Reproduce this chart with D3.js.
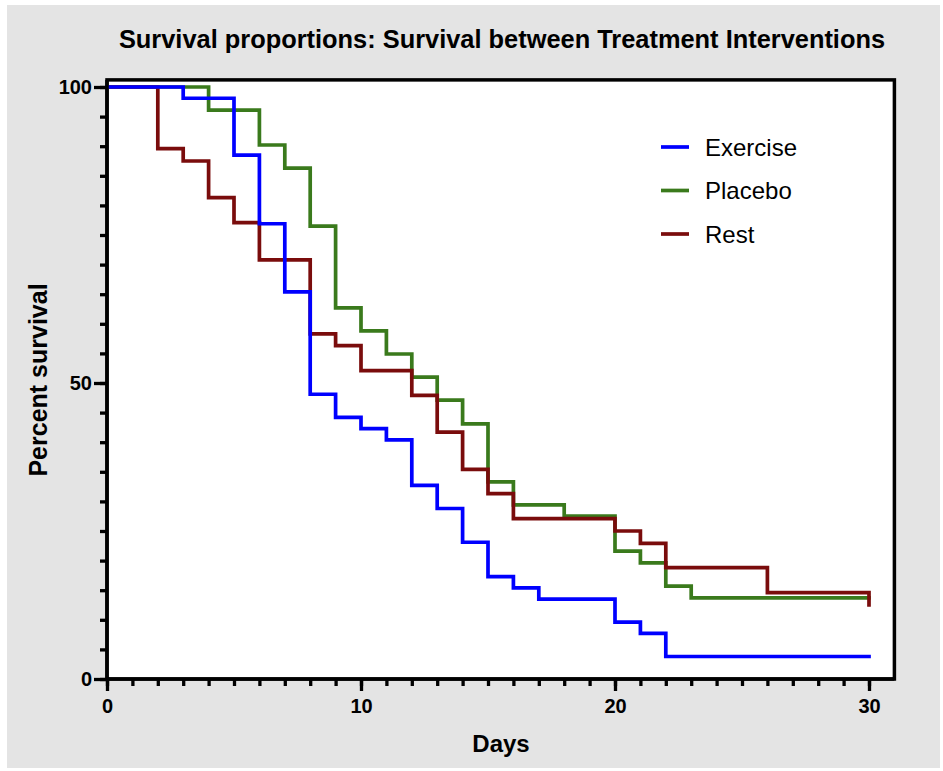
<!DOCTYPE html>
<html>
<head>
<meta charset="utf-8">
<script src="https://cdn.jsdelivr.net/npm/d3@7"></script>
<style>
  html, body { margin: 0; padding: 0; background: #ffffff; }
  svg { display: block; }
  text { font-family: "Liberation Sans", Arial, Helvetica, sans-serif; fill: #000; }
</style>
</head>
<body>
<svg id="chart" width="943" height="771"></svg>
<script>
// Kaplan-Meier survival steps: day of each event and percent surviving after it
const exerciseDays = [0, 3, 5, 6, 7, 8, 9, 10, 11, 12, 13, 14, 15, 16, 17, 20, 21, 22, 30];
const exerciseSurv = [100, 98.1, 88.5, 76.9, 65.4, 48.1, 44.2, 42.3, 40.4, 32.7, 28.8, 23.1, 17.3, 15.4, 13.5, 9.6, 7.7, 3.8, 3.8];

const placeboDays = [0, 4, 6, 7, 8, 9, 10, 11, 12, 13, 14, 15, 16, 18, 20, 21, 22, 23, 30];
const placeboSurv = [100, 96.1, 90.2, 86.3, 76.5, 62.7, 58.8, 54.9, 51.0, 47.1, 43.1, 33.3, 29.4, 27.5, 21.6, 19.6, 15.7, 13.7, 13.7];

const restDays = [0, 2, 3, 4, 5, 6, 8, 9, 10, 12, 13, 14, 15, 16, 20, 21, 22, 26, 30];
const restSurv = [100, 89.6, 87.5, 81.3, 77.1, 70.8, 58.3, 56.3, 52.1, 47.9, 41.7, 35.4, 31.3, 27.1, 25.0, 22.9, 18.8, 14.6, 12.5];

const seriesNames = ["Exercise", "Placebo", "Rest"];
const seriesColors = ["#0000ff", "#3a7a1c", "#7a0c0c"];

const xTicks = [0, 10, 20, 30];
const yTicks = [0, 50, 100];

const titleText = "Survival proportions: Survival between Treatment Interventions";
const xLabel = "Days";
const yLabel = "Percent survival";

const svg = d3.select("#chart");

// page backdrop
svg.append("rect").attr("x", 7).attr("y", 5).attr("width", 933).attr("height", 763).attr("fill", "#e4e4e4");

const x = d3.scaleLinear().domain([0, 30]).range([107, 869]);
const y = d3.scaleLinear().domain([0, 100]).range([679, 87]);

// plot frame (extends a little past the last ticks)
const fx0 = x(0), fx1 = x(31), fy0 = y(101.2), fy1 = y(0);
svg.append("rect")
  .attr("x", fx0).attr("y", fy0)
  .attr("width", fx1 - fx0).attr("height", fy1 - fy0)
  .attr("fill", "#ffffff").attr("stroke", "#000").attr("stroke-width", 3.5);

// survival curves (green under red under blue)
const series = [
  { name: "Placebo", days: placeboDays, surv: placeboSurv, color: seriesColors[1] },
  { name: "Rest", days: restDays, surv: restSurv, color: seriesColors[2] },
  { name: "Exercise", days: exerciseDays, surv: exerciseSurv, color: seriesColors[0] }
];
const line = d3.line().x(d => x(d[0])).y(d => y(d[1])).curve(d3.curveStepAfter);
series.forEach(s => {
  svg.append("path")
    .datum(s.days.map((d, i) => [d, s.surv[i]]))
    .attr("d", line)
    .attr("fill", "none")
    .attr("stroke", s.color)
    .attr("stroke-width", 3.7)
    .attr("stroke-linejoin", "miter")
    .attr("stroke-linecap", "square");
});

const tickFont = g => g.selectAll("text")
  .style("font-family", '"Liberation Sans", Arial, sans-serif')
  .style("font-size", "20px").style("font-weight", "bold").attr("fill", "#000");

// x axis: major ticks every 10 days, minor every day
const xAxis = svg.append("g").attr("transform", `translate(0,${y(0)})`);
xAxis.call(d3.axisBottom(x).tickValues(d3.range(0, 31, 1)).tickSize(7).tickFormat(""))
  .call(g => g.select(".domain").remove())
  .call(g => g.selectAll("line").attr("stroke-width", 3.3));
xAxis.append("g")
  .call(d3.axisBottom(x).tickValues(xTicks).tickSize(12).tickPadding(8).tickFormat(d3.format("d")))
  .call(g => g.select(".domain").remove())
  .call(g => g.selectAll("line").attr("stroke-width", 3.3))
  .call(tickFont);

// y axis: major ticks every 50, minor every 5
const yAxis = svg.append("g").attr("transform", `translate(${x(0)},0)`);
yAxis.call(d3.axisLeft(y).tickValues(d3.range(0, 101, 5)).tickSize(7).tickFormat(""))
  .call(g => g.select(".domain").remove())
  .call(g => g.selectAll("line").attr("stroke-width", 3.3));
yAxis.append("g")
  .call(d3.axisLeft(y).tickValues(yTicks).tickSize(13).tickPadding(2).tickFormat(d3.format("d")))
  .call(g => g.select(".domain").remove())
  .call(g => g.selectAll("line").attr("stroke-width", 3.3))
  .call(tickFont);

// redraw left and bottom frame edges on top of curves
svg.append("path")
  .attr("d", `M${fx0},${fy0}V${fy1}H${fx1}`)
  .attr("fill", "none").attr("stroke", "#000").attr("stroke-width", 3.5);

// title
svg.append("text")
  .attr("x", 502).attr("y", 48)
  .attr("text-anchor", "middle")
  .style("font-size", "25.4px").style("font-weight", "bold")
  .text(titleText);

// axis titles
svg.append("text")
  .attr("x", 501).attr("y", 752)
  .attr("text-anchor", "middle")
  .style("font-size", "24px").style("font-weight", "bold")
  .text(xLabel);

svg.append("text")
  .attr("transform", `translate(47,${y(50) - 3}) rotate(-90)`)
  .attr("text-anchor", "middle")
  .style("font-size", "25px").style("font-weight", "bold")
  .text(yLabel);

// legend
const legend = svg.append("g").attr("transform", "translate(661,147)");
seriesNames.forEach((name, i) => {
  const row = legend.append("g").attr("transform", `translate(0,${i * 43.5})`);
  row.append("line").attr("x1", 0).attr("x2", 28).attr("y1", 0).attr("y2", 0)
    .attr("stroke", seriesColors[i]).attr("stroke-width", 3.7);
  row.append("text").attr("x", 44).attr("y", 8.5)
    .style("font-size", "24px")
    .text(name);
});
</script>
</body>
</html>
